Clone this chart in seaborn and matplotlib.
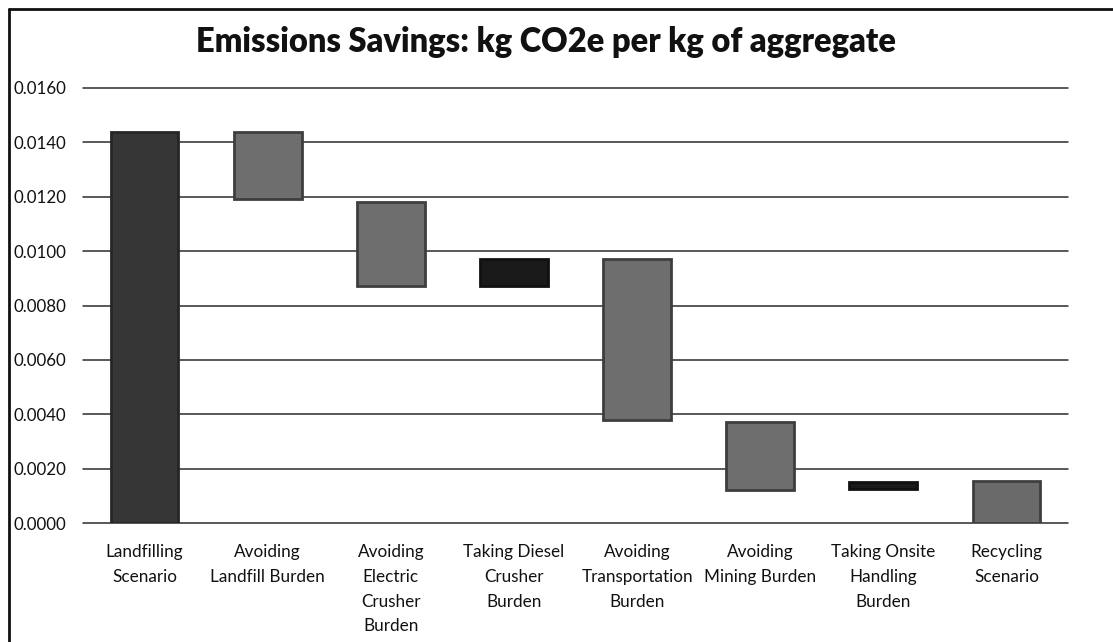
import matplotlib
matplotlib.use("Agg")
import matplotlib.pyplot as plt
import seaborn as sns
import pandas as pd
from matplotlib.lines import Line2D

categories = [
    "Landfilling\nScenario",
    "Avoiding\nLandfill Burden",
    "Avoiding\nElectric\nCrusher\nBurden",
    "Taking Diesel\nCrusher\nBurden",
    "Avoiding\nTransportation\nBurden",
    "Avoiding\nMining Burden",
    "Taking Onsite\nHandling\nBurden",
    "Recycling\nScenario",
]
bar_bottom = [0.0, 0.0119, 0.0087, 0.0087, 0.0038, 0.0012, 0.00125, 0.0]
bar_top = [0.0144, 0.0144, 0.0118, 0.0097, 0.0097, 0.0037, 0.00152, 0.00153]
bar_kind = ["total", "avoid", "avoid", "take", "avoid", "avoid", "take", "total2"]
title = "Emissions Savings: kg CO2e per kg of aggregate"
yticks = [0.0, 0.002, 0.004, 0.006, 0.008, 0.010, 0.012, 0.014, 0.016]

fill_map = {"total": "#363636", "avoid": "#6e6e6e", "take": "#1a1a1a", "total2": "#6a6a6a"}
edge_map = {"total": "#262626", "avoid": "#3e3e3e", "take": "#111111", "total2": "#3e3e3e"}

df = pd.DataFrame({
    "category": categories,
    "height": [t - b for t, b in zip(bar_top, bar_bottom)],
    "bottom": bar_bottom,
    "kind": bar_kind,
})

sns.set_theme(style="white")
plt.rcParams["font.family"] = ["Lato", "DejaVu Sans"]

fig = plt.figure(figsize=(11.13, 6.42), dpi=100)
ax = fig.add_axes([83 / 1113, 1 - 523 / 642, (1068 - 83) / 1113, (523 - 88) / 642])

# gridlines
for yv in yticks:
    ax.axhline(yv, color="#2b2b2b", lw=1.1, zorder=0, clip_on=False)

sns.barplot(data=df, x="category", y="height", hue="category", legend=False,
            palette=[fill_map[k] for k in bar_kind], width=0.55, ax=ax,
            saturation=1, zorder=2)
for patch, b, k in zip(ax.patches, bar_bottom, bar_kind):
    patch.set_y(b)
    patch.set_edgecolor(edge_map[k])
    patch.set_linewidth(2.0)

ax.set_ylim(0, 0.016)
ax.set_xlim(-0.5, len(categories) - 0.5)
ax.set_yticks(yticks)
ax.set_yticklabels([f"{v:.4f}" for v in yticks], fontsize=12.2, color="#111111")
ax.set_xticks(range(len(categories)))
ax.set_xticklabels(categories, fontsize=12.3, color="#111111", linespacing=1.68, va="top")
ax.tick_params(axis="x", pad=15, length=0)
ax.tick_params(axis="y", pad=0, length=0)
for lbl in ax.get_yticklabels():
    lbl.set_horizontalalignment("left")
    lbl.set_x(-(83 - 14) / (1068 - 83))
ax.set_xlabel("")
ax.set_ylabel("")
for s in ax.spines.values():
    s.set_visible(False)

fig.text(546 / 1113, 1 - 42 / 642, title, ha="center", va="center",
         fontsize=23.5, fontweight="heavy", color="#111111")

# outer frame (left and top)
fig.add_artist(Line2D([9 / 1113, 9 / 1113], [0, 1 - 9 / 642], transform=fig.transFigure,
                      color="#111111", lw=2))
fig.add_artist(Line2D([9 / 1113, 1], [1 - 9 / 642, 1 - 9 / 642], transform=fig.transFigure,
                      color="#111111", lw=2))

fig.savefig("out.png", dpi=100, facecolor="white")
